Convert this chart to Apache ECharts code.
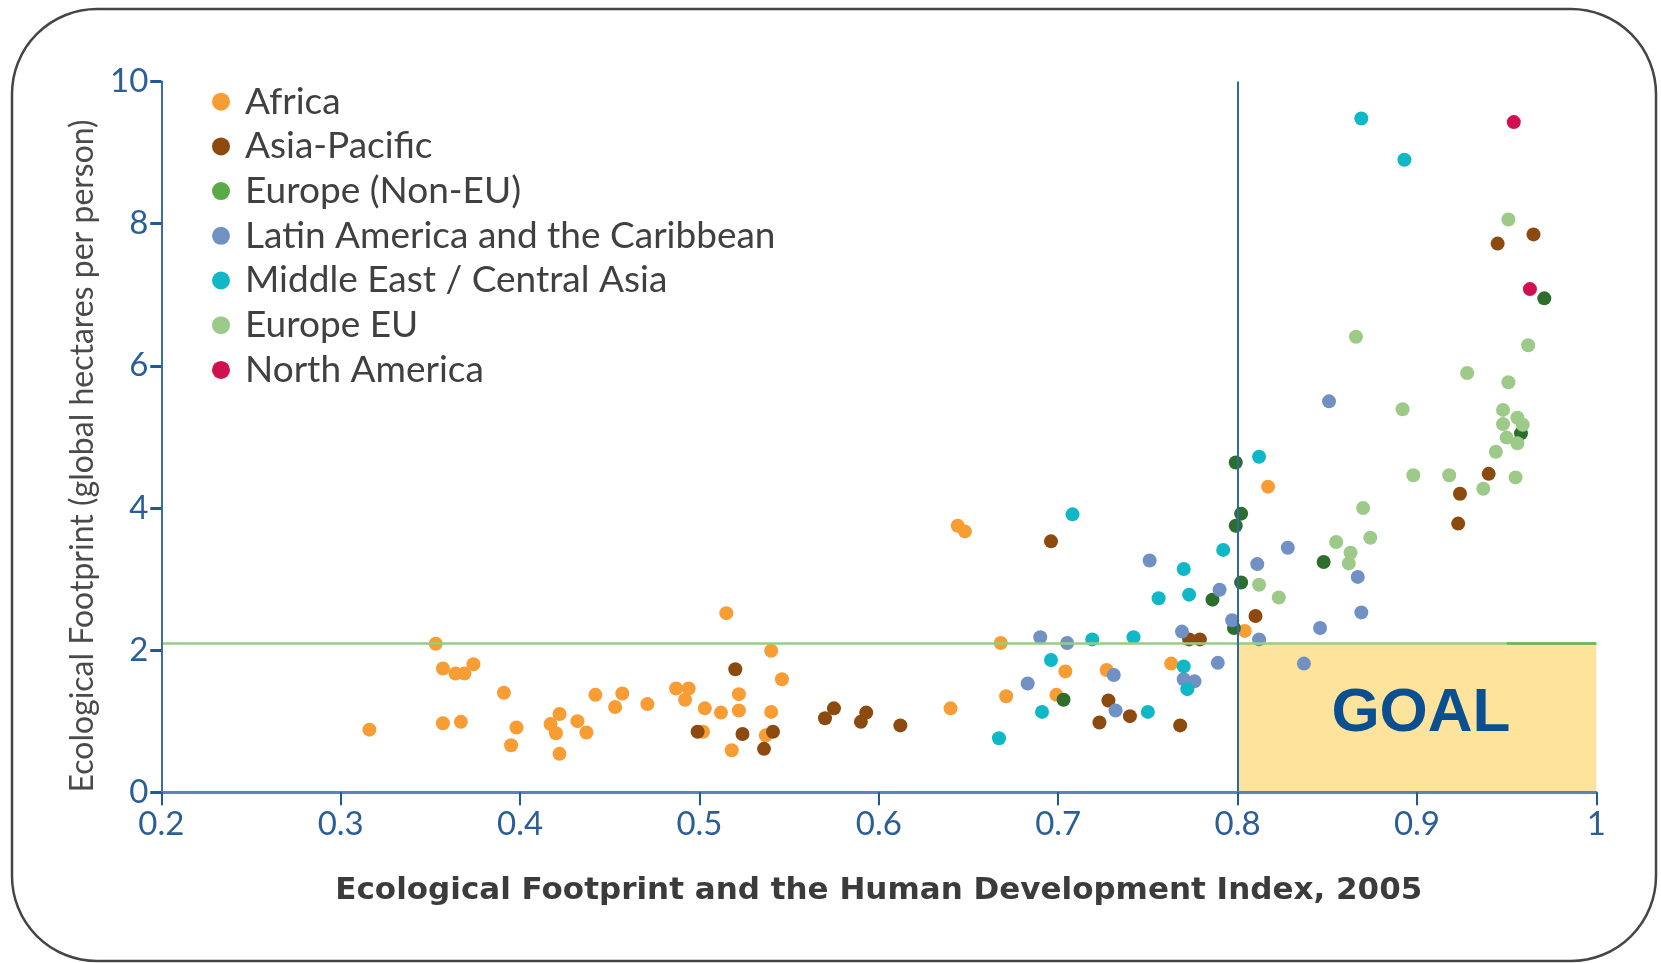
<!DOCTYPE html>
<html>
<head>
<meta charset="utf-8">
<script src="https://cdn.jsdelivr.net/npm/echarts@6/dist/echarts.min.js"></script>
<style>
html,body{margin:0;padding:0;background:#fff;}
#chart{width:1661px;height:963px;}
</style>
</head>
<body>
<div id="chart"></div>
<script>
// ---- data: [HDI, Ecological Footprint (gha/person)] ----
const africa = [[0.316,0.88],[0.353,2.09],[0.357,1.74],[0.364,1.67],[0.369,1.67],[0.374,1.80],[0.357,0.97],[0.367,0.99],[0.391,1.40],[0.398,0.91],[0.395,0.66],[0.417,0.96],[0.422,1.10],[0.420,0.83],[0.422,0.54],[0.432,1.00],[0.437,0.84],[0.442,1.37],[0.453,1.20],[0.457,1.39],[0.471,1.24],[0.487,1.46],[0.494,1.46],[0.492,1.30],[0.503,1.18],[0.512,1.12],[0.515,2.52],[0.522,1.38],[0.522,1.15],[0.518,0.59],[0.502,0.85],[0.540,1.99],[0.546,1.59],[0.540,1.13],[0.537,0.80],[0.644,3.75],[0.648,3.67],[0.640,1.18],[0.668,2.10],[0.671,1.35],[0.704,1.70],[0.699,1.37],[0.727,1.72],[0.763,1.81],[0.804,2.27],[0.817,4.30]];
const asiaPacific = [[0.499,0.85],[0.520,1.73],[0.524,0.82],[0.536,0.61],[0.541,0.85],[0.570,1.04],[0.575,1.18],[0.590,0.99],[0.593,1.12],[0.612,0.94],[0.696,3.53],[0.728,1.29],[0.723,0.98],[0.740,1.07],[0.768,0.94],[0.773,2.15],[0.779,2.15],[0.810,2.48],[0.923,3.78],[0.924,4.20],[0.940,4.48],[0.945,7.72],[0.965,7.85]];
const europeNonEU = [[0.703,1.30],[0.786,2.71],[0.798,2.31],[0.799,4.64],[0.802,3.92],[0.799,3.75],[0.802,2.95],[0.848,3.24],[0.958,5.05],[0.971,6.95]];
const latinAmerica = [[0.683,1.53],[0.690,2.18],[0.705,2.10],[0.731,1.65],[0.732,1.15],[0.751,3.26],[0.769,2.26],[0.770,1.59],[0.776,1.56],[0.789,1.82],[0.790,2.85],[0.797,2.42],[0.811,3.21],[0.812,2.15],[0.828,3.44],[0.837,1.81],[0.846,2.31],[0.867,3.03],[0.869,2.53],[0.851,5.50]];
const middleEast = [[0.667,0.76],[0.691,1.13],[0.696,1.86],[0.708,3.91],[0.719,2.15],[0.742,2.18],[0.750,1.13],[0.756,2.73],[0.770,3.14],[0.770,1.77],[0.772,1.45],[0.773,2.78],[0.792,3.41],[0.812,4.72],[0.869,9.48],[0.893,8.90]];
const europeEU = [[0.812,2.92],[0.823,2.74],[0.855,3.52],[0.863,3.37],[0.862,3.22],[0.870,4.00],[0.874,3.58],[0.892,5.39],[0.898,4.46],[0.918,4.46],[0.928,5.90],[0.937,4.27],[0.944,4.79],[0.948,5.18],[0.948,5.38],[0.950,4.99],[0.951,5.77],[0.951,8.06],[0.955,4.43],[0.956,4.91],[0.956,5.27],[0.959,5.17],[0.962,6.29],[0.866,6.41]];
const northAmerica = [[0.954,9.43],[0.963,7.08]];

const seriesNames = ['Africa','Asia-Pacific','Europe (Non-EU)','Latin America and the Caribbean','Middle East / Central Asia','Europe EU','North America'];
const seriesData = [africa, asiaPacific, europeNonEU, latinAmerica, middleEast, europeEU, northAmerica];
const pointColors = ['#f79d34','#8c4a0f','#2e6e2c','#7190c4','#0fb7c7','#9dca89','#d1104f'];
const legendColors = ['#f79d34','#8c4a0f','#5aab48','#7190c4','#0fb7c7','#9dca89','#d1104f'];

const xTicks = {min:0.2, max:1, interval:0.1};
const yTicks = {min:0, max:10, interval:2};
const biocapacity = 2.1;   // world average biocapacity line
const hdiThreshold = 0.8;  // high human development threshold

const chart = echarts.init(document.getElementById('chart'), null, {renderer:'canvas'});

const scatterSeries = seriesNames.map((n,i)=>({
  name:n, type:'scatter', data:seriesData[i], symbol:'circle', symbolSize:14, z:3,
  itemStyle:{color:pointColors[i], opacity:1}
}));

const option = {
  animation:false,
  backgroundColor:'#ffffff',
  grid:{left:161.3, right:64.7, top:81.6, bottom:170.8, containLabel:false},
  legend:{
    orient:'vertical', left:212, top:83.2, padding:0,
    itemWidth:38, itemHeight:18, itemGap:7.7, icon:'circle',
    textStyle:{fontFamily:'Lato', fontSize:37, color:'#404040', lineHeight:34},
    data:seriesNames.map((n,i)=>({name:n, itemStyle:{color:legendColors[i]}}))
  },
  xAxis:{
    type:'value', min:xTicks.min, max:xTicks.max, interval:xTicks.interval, z:5,
    axisLine:{show:true, onZero:false, lineStyle:{color:'#5f82b4', width:3}},
    axisTick:{show:true, length:13, lineStyle:{color:'#1f5a96', width:2}},
    axisLabel:{color:'#2b5e99', fontFamily:'Lato', fontSize:33, margin:16,
      formatter:v=>String(+(+v).toFixed(1))},
    splitLine:{show:false},
    name:'Ecological Footprint and the Human Development Index, 2005',
    nameLocation:'middle', nameGap:83,
    nameTextStyle:{fontFamily:'DejaVu Sans', fontWeight:'bold', fontSize:31, color:'#3b3b3b'}
  },
  yAxis:{
    type:'value', min:yTicks.min, max:yTicks.max, interval:yTicks.interval, z:5,
    axisLine:{show:true, onZero:false, lineStyle:{color:'#3b6ba8', width:2}},
    axisTick:{show:true, length:11, lineStyle:{color:'#1f5a96', width:3}},
    axisLabel:{color:'#2b5e99', fontFamily:'Lato', fontSize:33, margin:13},
    splitLine:{show:false},
    name:'Ecological Footprint (global hectares per person)',
    nameLocation:'middle', nameGap:60,
    nameTextStyle:{fontFamily:'Lato', fontSize:32, color:'#4a4a4a', padding:[0,38,0,0]}
  },
  graphic:[{
    type:'rect', silent:true, z:-1,
    shape:{x:12, y:9, width:1644, height:952, r:85},
    style:{fill:'transparent', stroke:'#454545', lineWidth:2.5}
  }],
  series:[
    {
      name:'goal', type:'scatter', data:[], z:1, silent:true,
      markArea:{
        silent:true,
        itemStyle:{color:'#fde39b'},
        label:{show:true, position:'inside', color:'#0a4f8f', fontSize:62, fontWeight:'bold',
               fontFamily:'Liberation Sans', offset:[4,-4]},
        data:[[{coord:[hdiThreshold,0], name:'GOAL'},{coord:[xTicks.max,biocapacity]}]]
      }
    },
    {
      name:'lines', type:'scatter', data:[], z:2, silent:true,
      markLine:{
        silent:true, symbol:'none', label:{show:false},
        data:[
          [{coord:[xTicks.min,biocapacity], lineStyle:{color:'#96cc85', width:2.5, type:'solid'}},{coord:[xTicks.max,biocapacity]}],
          [{coord:[0.95,biocapacity], lineStyle:{color:'#6db352', width:2.5, type:'solid'}},{coord:[xTicks.max,biocapacity]}],
          [{coord:[hdiThreshold,yTicks.min], lineStyle:{color:'#2e69a6', width:2, type:'solid'}},{coord:[hdiThreshold,yTicks.max]}]
        ]
      }
    }
  ].concat(scatterSeries)
};
chart.setOption(option);
</script>
</body>
</html>
